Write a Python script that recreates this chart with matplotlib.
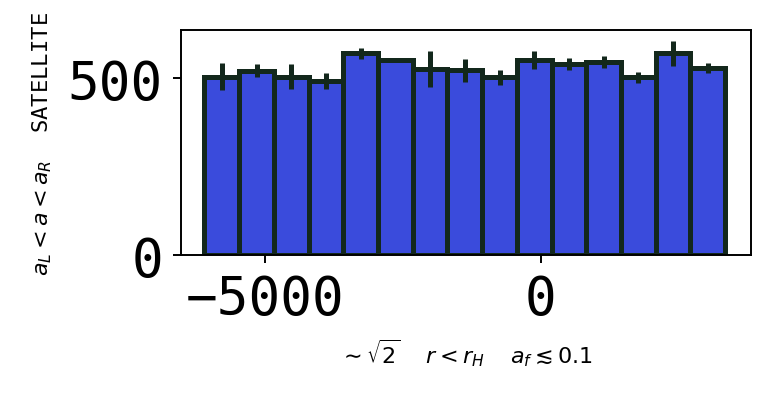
import numpy as np
from matplotlib import pyplot as plt

centers = [-5790, -5160, -4530, -3900, -3270, -2640, -2010, -1380,
           -750, -120, 510, 1140, 1770, 2400, 3030]
heights = [504, 521, 504, 492, 570, 551, 526, 522,
           502, 551, 540, 545, 502, 570, 528]
errors = [38, 19, 35, 23, 16, 5, 50, 32, 22, 26, 16, 17, 16, 35, 15]
bin_width = 630

plt.rcParams['font.family'] = 'DejaVu Sans Mono'

fig = plt.figure(figsize=(3.91, 2.01), dpi=200)
ax = fig.add_axes([0.2315, 0.363, 0.7285, 0.56])

ax.bar(centers, heights, width=bin_width, color='#3a4bdc',
       edgecolor='#13281c', linewidth=1.8,
       yerr=errors, error_kw=dict(ecolor='#13281c', elinewidth=1.8, capsize=0))

ax.set_xlim(-6530, 3808)
ax.set_ylim(0, 636)
ax.set_xticks([-5000, 0])
ax.set_yticks([0, 500])
ax.tick_params(labelsize=19, width=0.7, length=3)
for s in ax.spines.values():
    s.set_linewidth(0.7)

ax.set_ylabel(r'$a_L < a < a_R$  SATELLITE', fontsize=8, labelpad=5)
ax.set_xlabel(r'$\sim\sqrt{2}$  $r < r_H$  $a_f \lesssim 0.1$',
              fontsize=8, labelpad=4)

fig.savefig('out.png', dpi=200)
